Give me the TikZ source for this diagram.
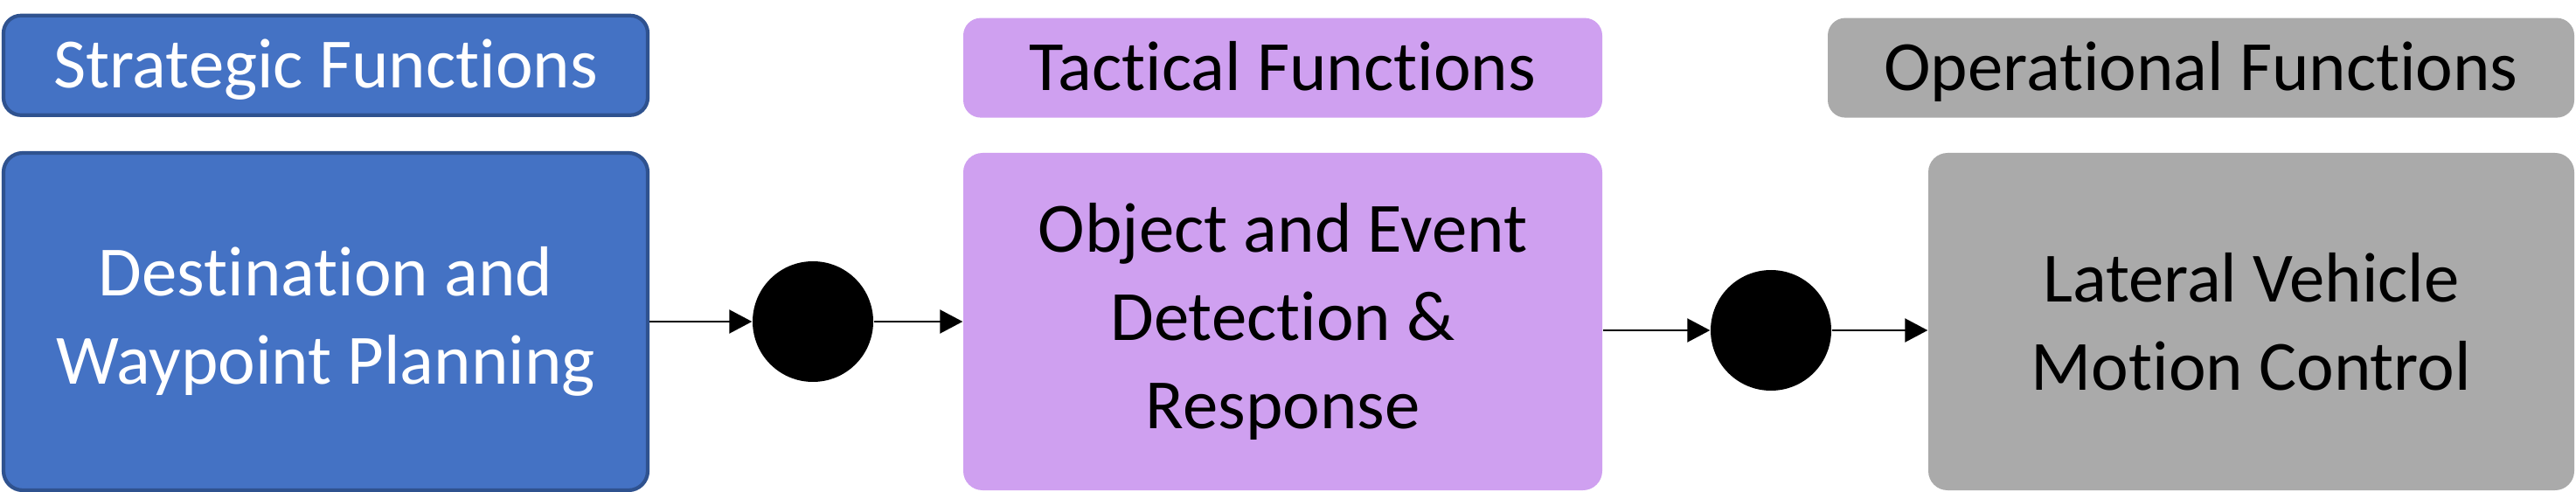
\documentclass[tikz,border=0pt]{standalone}
\usepackage{fontspec}
\setmainfont{Carlito}[Ligatures=NoCommon]
\usetikzlibrary{arrows.meta,positioning}

\definecolor{stratblue}{HTML}{4472C4}
\definecolor{stratedge}{HTML}{2F528F}
\definecolor{tacpurple}{HTML}{CFA0F0}
\definecolor{opgray}{HTML}{AAAAAA}

\begin{document}
\begin{tikzpicture}[
      font=\fontsize{23}{28.7}\selectfont,
      node distance=0.39cm,
      func/.style={rectangle, rounded corners=0.22cm, minimum height=3.86cm, align=center, inner sep=0pt},
      head/.style={rectangle, rounded corners=0.2cm, minimum height=1.14cm, inner sep=0pt, text height=0.52cm, text depth=0cm},
      dot/.style={circle, fill=black, minimum size=1.38cm, inner sep=0pt},
      arrow/.style={-{Triangle[length=0.26cm, width=0.27cm]}, line width=0.6pt}
    ]
      \useasboundingbox (0,0) rectangle (29.47,-5.63);

      \node[func, fill=stratblue, draw=stratedge, line width=1.2pt, text=white, minimum width=7.37cm] (dest) at (3.725,-3.68) {Destination and\\Waypoint Planning};
      \node[func, fill=tacpurple, minimum width=7.31cm] (objev) at (14.675,-3.68) {Object and Event\\Detection \&\\Response};
      \node[func, fill=opgray, minimum width=7.39cm] (lat) at (25.755,-3.68) {Lateral Vehicle\\Motion Control};

      \node[head, fill=stratblue, draw=stratedge, line width=1.2pt, text=white, minimum width=7.37cm, above=of dest] (strat) {Strategic Functions};
      \node[head, fill=tacpurple, minimum width=7.31cm, above=of objev] (tact) {Tactical Functions};
      \node[head, fill=opgray, minimum width=8.54cm, above=of lat.north east, anchor=south east] (oper) {Operational Functions};

      \node[dot] (d1) at (9.30,-3.68) {};
      \node[dot] (d2) at (20.26,-3.78) {};

      \draw[arrow] (dest) -- (d1);
      \draw[arrow] (d1) -- (objev);
      \draw[arrow] (objev.east |- d2) -- (d2);
      \draw[arrow] (d2) -- (lat.west |- d2);
    \end{tikzpicture}
\end{document}
